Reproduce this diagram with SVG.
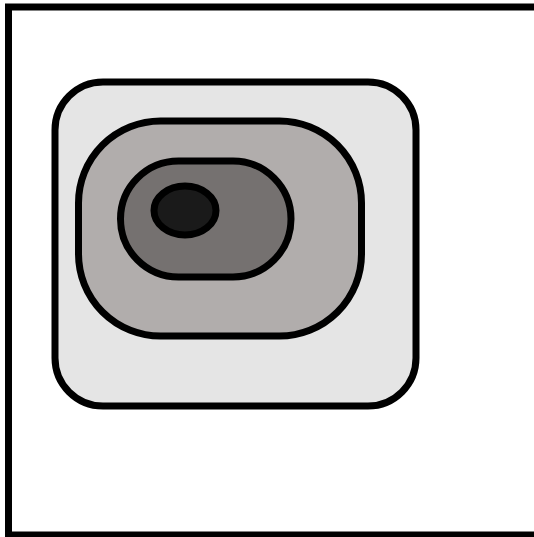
<svg xmlns="http://www.w3.org/2000/svg" width="534" height="537" viewBox="0 0 534 537">
<style>
.s{stroke:#000;stroke-width:7}
</style>
<rect width="534" height="537" fill="#fff"/>
<rect id="frame" class="s" x="8.5" y="7" width="530" height="528" fill="#fff"/>
<g id="outer"><rect class="s" x="55" y="82" width="361" height="324" rx="48" ry="48" fill="#e5e5e5"/></g>
<g id="middle"><rect class="s" x="78.5" y="121" width="283" height="215" rx="82" ry="82" fill="#b1adac"/></g>
<g id="inner"><rect class="s" x="120.5" y="161" width="170.5" height="116" rx="58" ry="58" fill="#757170"/></g>
<g id="core"><ellipse class="s" cx="185" cy="210.5" rx="31" ry="24.5" fill="#1a1a1a"/></g>
<g id="connectors"/>
</svg>
